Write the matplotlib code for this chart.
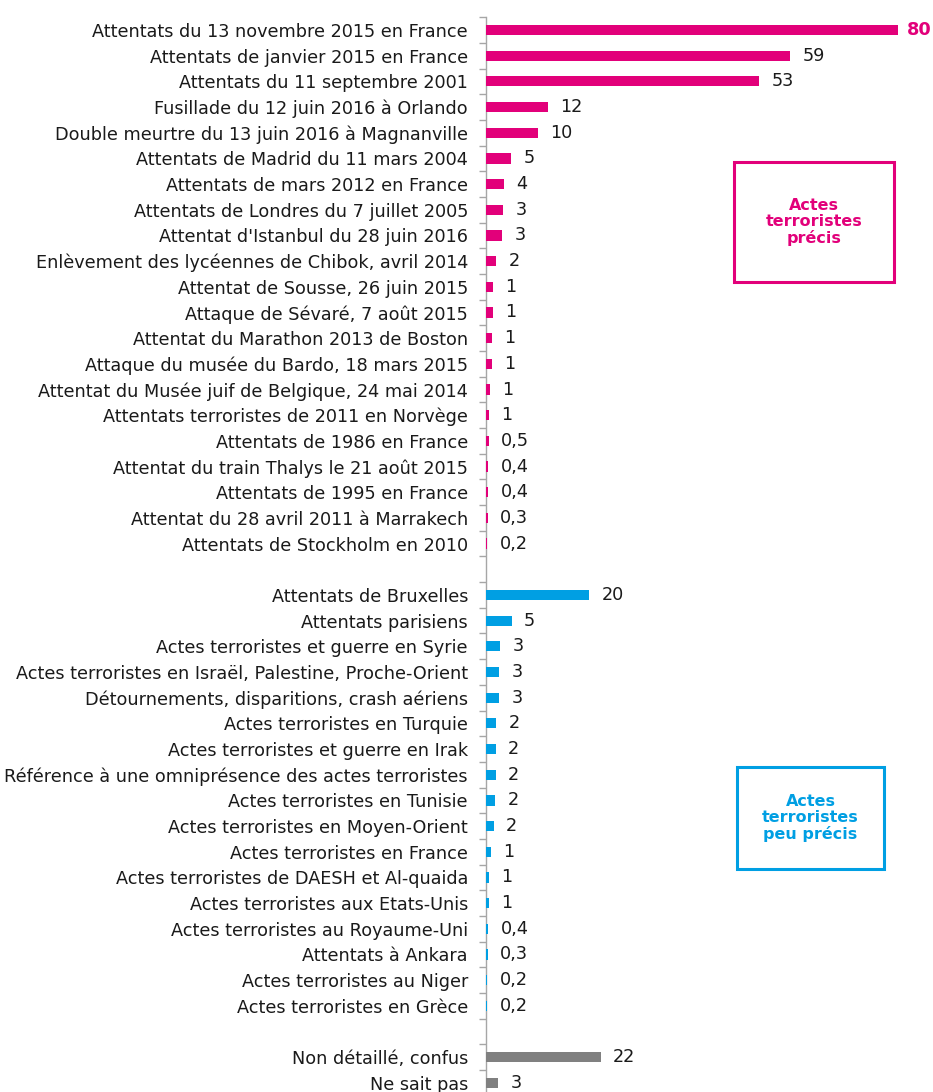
import matplotlib
matplotlib.use("Agg")
import matplotlib.pyplot as plt
from matplotlib.patches import Rectangle

plt.rcParams['font.family'] = ['DejaVu Sans']

precise_labels = [
    "Attentats du 13 novembre 2015 en France",
    "Attentats de janvier 2015 en France",
    "Attentats du 11 septembre 2001",
    "Fusillade du 12 juin 2016 à Orlando",
    "Double meurtre du 13 juin 2016 à Magnanville",
    "Attentats de Madrid du 11 mars 2004",
    "Attentats de mars 2012 en France",
    "Attentats de Londres du 7 juillet 2005",
    "Attentat d'Istanbul du 28 juin 2016",
    "Enlèvement des lycéennes de Chibok, avril 2014",
    "Attentat de Sousse, 26 juin 2015",
    "Attaque de Sévaré, 7 août 2015",
    "Attentat du Marathon 2013 de Boston",
    "Attaque du musée du Bardo, 18 mars 2015",
    "Attentat du Musée juif de Belgique, 24 mai 2014",
    "Attentats terroristes de 2011 en Norvège",
    "Attentats de 1986 en France",
    "Attentat du train Thalys le 21 août 2015",
    "Attentats de 1995 en France",
    "Attentat du 28 avril 2011 à Marrakech",
    "Attentats de Stockholm en 2010",
]
precise_values = [80, 59, 53, 12, 10, 4.9, 3.5, 3.3, 3.2, 2.0, 1.4, 1.4, 1.2, 1.2,
                  0.8, 0.6, 0.5, 0.4, 0.4, 0.3, 0.2]
precise_texts = ["80", "59", "53", "12", "10", "5", "4", "3", "3", "2", "1", "1", "1", "1",
                 "1", "1", "0,5", "0,4", "0,4", "0,3", "0,2"]

vague_labels = [
    "Attentats de Bruxelles",
    "Attentats parisiens",
    "Actes terroristes et guerre en Syrie",
    "Actes terroristes en Israël, Palestine, Proche-Orient",
    "Détournements, disparitions, crash aériens",
    "Actes terroristes en Turquie",
    "Actes terroristes et guerre en Irak",
    "Référence à une omniprésence des actes terroristes",
    "Actes terroristes en Tunisie",
    "Actes terroristes en Moyen-Orient",
    "Actes terroristes en France",
    "Actes terroristes de DAESH et Al-quaida",
    "Actes terroristes aux Etats-Unis",
    "Actes terroristes au Royaume-Uni",
    "Attentats à Ankara",
    "Actes terroristes au Niger",
    "Actes terroristes en Grèce",
]
vague_values = [20, 5.0, 2.7, 2.6, 2.6, 2.0, 1.9, 1.9, 1.8, 1.5, 1.0, 0.6, 0.6,
                0.4, 0.3, 0.2, 0.2]
vague_texts = ["20", "5", "3", "3", "3", "2", "2", "2", "2", "2", "1", "1", "1",
               "0,4", "0,3", "0,2", "0,2"]

other_labels = ["Non détaillé, confus", "Ne sait pas"]
other_values = [22.3, 2.3]
other_texts = ["22", "3"]

PINK = "#E2007A"
BLUE = "#009FE3"
GREY = "#808080"
FS = 12.7

W, H = 933, 1092
fig = plt.figure(figsize=(W / 100, H / 100), dpi=100)

slot = 25.68
top_px = 30 - slot / 2
n_slots = len(precise_labels) + 1 + len(vague_labels) + 1 + len(other_labels)
bottom_px = top_px + n_slots * slot
x0_px, x80_px = 486, 898
ax = fig.add_axes([x0_px / W, 1 - bottom_px / H, (x80_px - x0_px) / W, (bottom_px - top_px) / H])

groups = [(precise_labels, precise_values, precise_texts, PINK),
          (vague_labels, vague_values, vague_texts, BLUE),
          (other_labels, other_values, other_texts, GREY)]

ypos_all, lab_all = [], []
pos = 0
for gi, (labs, vals, texts, col) in enumerate(groups):
    ys = list(range(pos, pos + len(labs)))
    ax.barh(ys, vals, height=0.4, color=col, edgecolor='none', zorder=3)
    for y, v, t in zip(ys, vals, texts):
        if t == "80":
            ax.text(v + 1.8, y, t, va='center', ha='left', fontsize=FS,
                    fontweight='bold', color=PINK)
        else:
            ax.text(v + 2.4, y, t, va='center', ha='left', fontsize=FS, color='#1a1a1a')
    ypos_all += ys
    lab_all += labs
    pos += len(labs) + 1

ax.set_ylim(n_slots - 0.5, -0.5)
ax.set_xlim(0, 80)
ax.set_yticks(ypos_all)
ax.set_yticklabels(lab_all, fontsize=FS, color='#1a1a1a')
ax.tick_params(axis='y', which='major', length=0, pad=13)
ax.set_yticks([i + 0.5 for i in range(-1, n_slots)], minor=True)
ax.tick_params(axis='y', which='minor', length=5, color='#A6A6A6', width=1)
ax.set_xticks([])
for s in ['top', 'right', 'bottom']:
    ax.spines[s].set_visible(False)
ax.spines['left'].set_color('#A6A6A6')
ax.spines['left'].set_linewidth(1)
ax.spines['left'].set_zorder(2)

def box(x1, y1, x2, y2, col, text):
    fig.patches.append(Rectangle((x1 / W, 1 - y2 / H), (x2 - x1) / W, (y2 - y1) / H,
                                 transform=fig.transFigure, fill=False,
                                 edgecolor=col, linewidth=2.2))
    fig.text((x1 + x2) / 2 / W, 1 - (y1 + y2) / 2 / H, text, ha='center', va='center',
             color=col, fontsize=11.5, fontweight='bold', linespacing=1.05)

box(734, 162, 894, 282, PINK, "Actes\nterroristes\nprécis")
box(737, 767, 884, 869, BLUE, "Actes\nterroristes\npeu précis")

fig.savefig("out.png", dpi=100)
